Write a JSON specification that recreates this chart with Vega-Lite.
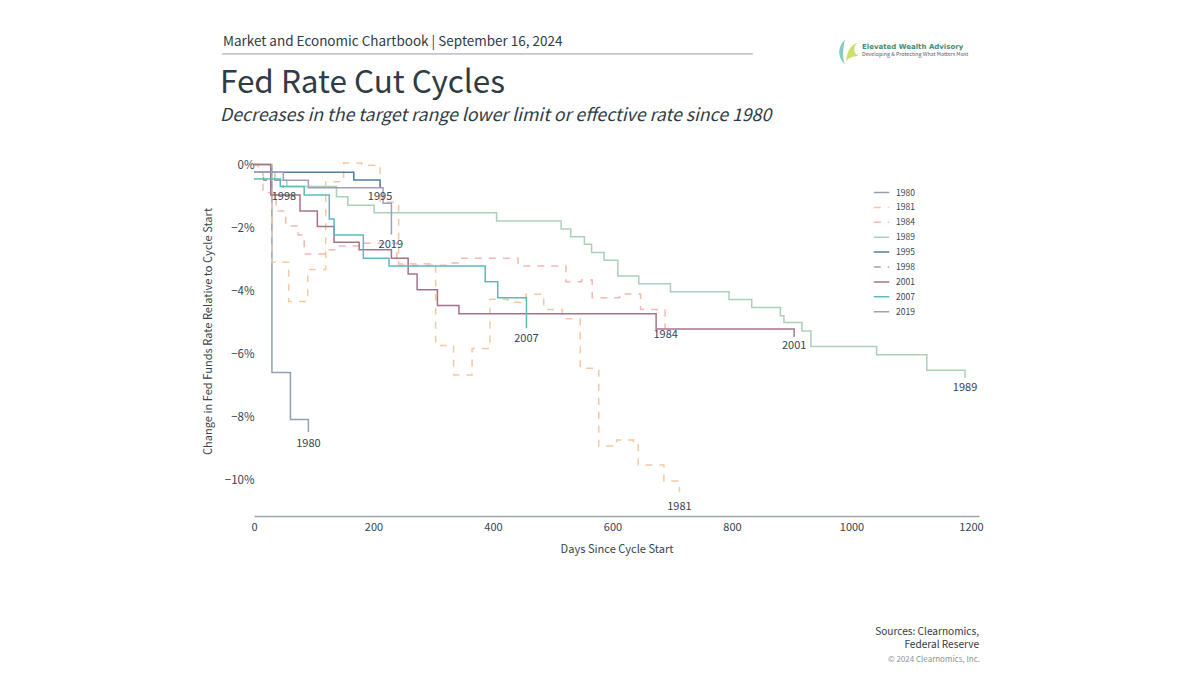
{
  "$schema": "https://vega.github.io/schema/vega-lite/v6.json",
  "autosize": {"type": "none"},
  "padding": {"left": 254, "top": 155, "right": 221, "bottom": 159},
  "width": 725,
  "height": 361,
  "background": "white",
  "title": {
    "text": "Fed Rate Cut Cycles",
    "subtitle": "Decreases in the target range lower limit or effective rate since 1980",
    "anchor": "start",
    "frame": "group",
    "dx": -34,
    "offset": -90,
    "font": "Noto Sans CJK SC",
    "fontSize": 31.5,
    "fontWeight": "normal",
    "color": "#2f3b45",
    "subtitleFont": "Noto Sans CJK SC",
    "subtitleFontSize": 17.7,
    "subtitleFontStyle": "italic",
    "subtitleColor": "#2f3b45",
    "subtitlePadding": 8
  },
  "datasets": {
    "cycles": [
      {"series": "1980", "day": 0, "change": 0},
      {"series": "1980", "day": 30, "change": -6.6},
      {"series": "1980", "day": 61, "change": -8.1},
      {"series": "1980", "day": 91, "change": -8.5},
      {"series": "1981", "day": 0, "change": 0},
      {"series": "1981", "day": 30, "change": -3.1},
      {"series": "1981", "day": 58, "change": -4.35},
      {"series": "1981", "day": 90, "change": -3.33},
      {"series": "1981", "day": 120, "change": -0.55},
      {"series": "1981", "day": 150, "change": 0.05},
      {"series": "1981", "day": 180, "change": -0.02},
      {"series": "1981", "day": 211, "change": -1.2},
      {"series": "1981", "day": 242, "change": -3.15},
      {"series": "1981", "day": 304, "change": -5.75},
      {"series": "1981", "day": 334, "change": -6.68},
      {"series": "1981", "day": 365, "change": -5.84},
      {"series": "1981", "day": 395, "change": -4.28},
      {"series": "1981", "day": 425, "change": -4.37},
      {"series": "1981", "day": 455, "change": -4.12},
      {"series": "1981", "day": 485, "change": -4.6},
      {"series": "1981", "day": 516, "change": -4.9},
      {"series": "1981", "day": 546, "change": -6.47},
      {"series": "1981", "day": 577, "change": -8.94},
      {"series": "1981", "day": 607, "change": -8.75},
      {"series": "1981", "day": 635, "change": -8.85},
      {"series": "1981", "day": 643, "change": -9.54},
      {"series": "1981", "day": 686, "change": -10.05},
      {"series": "1981", "day": 712, "change": -10.39},
      {"series": "1984", "day": 0, "change": 0},
      {"series": "1984", "day": 7, "change": -0.25},
      {"series": "1984", "day": 15, "change": -0.9},
      {"series": "1984", "day": 37, "change": -1.48},
      {"series": "1984", "day": 53, "change": -1.95},
      {"series": "1984", "day": 74, "change": -2.24},
      {"series": "1984", "day": 84, "change": -2.84},
      {"series": "1984", "day": 119, "change": -2.71},
      {"series": "1984", "day": 141, "change": -2.59},
      {"series": "1984", "day": 182, "change": -2.5},
      {"series": "1984", "day": 239, "change": -3.2},
      {"series": "1984", "day": 322, "change": -3.13},
      {"series": "1984", "day": 342, "change": -2.98},
      {"series": "1984", "day": 442, "change": -3.22},
      {"series": "1984", "day": 522, "change": -3.72},
      {"series": "1984", "day": 548, "change": -3.67},
      {"series": "1984", "day": 566, "change": -4.23},
      {"series": "1984", "day": 612, "change": -4.11},
      {"series": "1984", "day": 647, "change": -4.6},
      {"series": "1984", "day": 688, "change": -5.19},
      {"series": "1989", "day": 0, "change": -0.25},
      {"series": "1989", "day": 35, "change": -0.5},
      {"series": "1989", "day": 55, "change": -0.7},
      {"series": "1989", "day": 138, "change": -1.02},
      {"series": "1989", "day": 157, "change": -1.29},
      {"series": "1989", "day": 201, "change": -1.53},
      {"series": "1989", "day": 406, "change": -1.79},
      {"series": "1989", "day": 514, "change": -2.05},
      {"series": "1989", "day": 530, "change": -2.29},
      {"series": "1989", "day": 553, "change": -2.53},
      {"series": "1989", "day": 565, "change": -2.79},
      {"series": "1989", "day": 586, "change": -3.04},
      {"series": "1989", "day": 609, "change": -3.54},
      {"series": "1989", "day": 644, "change": -3.79},
      {"series": "1989", "day": 697, "change": -4.04},
      {"series": "1989", "day": 795, "change": -4.29},
      {"series": "1989", "day": 833, "change": -4.54},
      {"series": "1989", "day": 881, "change": -4.8},
      {"series": "1989", "day": 887, "change": -5.02},
      {"series": "1989", "day": 917, "change": -5.29},
      {"series": "1989", "day": 932, "change": -5.78},
      {"series": "1989", "day": 1042, "change": -6.04},
      {"series": "1989", "day": 1126, "change": -6.53},
      {"series": "1989", "day": 1190, "change": -6.79},
      {"series": "1995", "day": 0, "change": -0.25},
      {"series": "1995", "day": 167, "change": -0.49},
      {"series": "1995", "day": 211, "change": -0.74},
      {"series": "1998", "day": 0, "change": -0.25},
      {"series": "1998", "day": 16, "change": -0.5},
      {"series": "1998", "day": 49, "change": -0.75},
      {"series": "2001", "day": 0, "change": 0},
      {"series": "2001", "day": 28, "change": -0.97},
      {"series": "2001", "day": 77, "change": -1.48},
      {"series": "2001", "day": 106, "change": -1.97},
      {"series": "2001", "day": 134, "change": -2.47},
      {"series": "2001", "day": 176, "change": -2.71},
      {"series": "2001", "day": 230, "change": -2.98},
      {"series": "2001", "day": 258, "change": -3.48},
      {"series": "2001", "day": 273, "change": -3.98},
      {"series": "2001", "day": 307, "change": -4.48},
      {"series": "2001", "day": 343, "change": -4.74},
      {"series": "2001", "day": 673, "change": -5.22},
      {"series": "2001", "day": 904, "change": -5.47},
      {"series": "2007", "day": 0, "change": -0.46},
      {"series": "2007", "day": 44, "change": -0.7},
      {"series": "2007", "day": 84, "change": -0.97},
      {"series": "2007", "day": 126, "change": -1.73},
      {"series": "2007", "day": 134, "change": -2.24},
      {"series": "2007", "day": 183, "change": -2.98},
      {"series": "2007", "day": 226, "change": -3.22},
      {"series": "2007", "day": 387, "change": -3.72},
      {"series": "2007", "day": 408, "change": -4.23},
      {"series": "2007", "day": 456, "change": -5.2},
      {"series": "2019", "day": 0, "change": -0.25},
      {"series": "2019", "day": 49, "change": -0.5},
      {"series": "2019", "day": 91, "change": -0.74},
      {"series": "2019", "day": 216, "change": -1.23},
      {"series": "2019", "day": 230, "change": -2.22}
    ],
    "endLabels": [
      {"series": "1980", "day": 91, "change": -8.84},
      {"series": "1981", "day": 712, "change": -10.84},
      {"series": "1984", "day": 689, "change": -5.38},
      {"series": "1989", "day": 1190, "change": -7.06},
      {"series": "1995", "day": 211, "change": -1.0},
      {"series": "1998", "day": 50, "change": -1.0},
      {"series": "2001", "day": 904, "change": -5.73},
      {"series": "2007", "day": 456, "change": -5.5},
      {"series": "2019", "day": 229, "change": -2.52}
    ]
  },
  "encoding": {
    "x": {
      "type": "quantitative",
      "scale": {"domain": [0, 1213.4], "nice": false, "zero": false},
      "axis": {
        "title": "Days Since Cycle Start",
        "values": [0, 200, 400, 600, 800, 1000, 1200],
        "format": "d",
        "labelFlush": false,
        "grid": false,
        "domainColor": "#9aa3aa",
        "domainWidth": 1.5,
        "ticks": false,
        "labelPadding": 5,
        "labelFont": "Noto Sans CJK SC",
        "labelFontSize": 11,
        "labelColor": "#36454f",
        "titleFont": "Noto Sans CJK SC",
        "titleFontSize": 11.1,
        "titleFontWeight": "normal",
        "titleColor": "#36454f",
        "titlePadding": 11
      }
    },
    "y": {
      "type": "quantitative",
      "scale": {"domain": [-11.16, 0.3016], "nice": false, "zero": false},
      "axis": {
        "title": "Change in Fed Funds Rate Relative to Cycle Start",
        "values": [0, -2, -4, -6, -8, -10],
        "labelExpr": "(datum.value < 0 ? '−' : '') + abs(datum.value) + '%'",
        "grid": false,
        "domain": false,
        "ticks": false,
        "labelPadding": 0,
        "labelOffset": 1,
        "labelFont": "Noto Sans CJK SC",
        "labelFontSize": 11.5,
        "labelColor": "#36454f",
        "titleFont": "Noto Sans CJK SC",
        "titleFontSize": 11.1,
        "titleFontWeight": "normal",
        "titleColor": "#36454f",
        "titleX": -41,
        "titleY": 176
      }
    }
  },
  "layer": [
    {
      "data": {"name": "cycles"},
      "mark": {"type": "line", "interpolate": "step-after"},
      "encoding": {
        "x": {"field": "day"},
        "y": {"field": "change"},
        "color": {
          "field": "series",
          "type": "nominal",
          "scale": {
            "domain": ["1980", "1981", "1984", "1989", "1995", "1998", "2001", "2007", "2019"],
            "range": ["#8fa1b0", "#f3c9a3", "#f3b8b3", "#abd0b8", "#4f7ea3", "#b3a095", "#a5728b", "#5cb9bd", "#a29ebf"]
          },
          "legend": {
            "title": null,
            "orient": "none",
            "legendX": 619,
            "legendY": 29,
            "symbolType": "stroke",
            "symbolSize": 240,
            "rowPadding": 1.9,
            "labelFont": "Noto Sans CJK SC",
            "labelFontSize": 8.5,
            "labelColor": "#36454f",
            "labelOffset": 6
          }
        },
        "strokeDash": {
          "field": "series",
          "type": "nominal",
          "scale": {
            "domain": ["1980", "1981", "1984", "1989", "1995", "1998", "2001", "2007", "2019"],
            "range": [[1, 0], [7, 7], [7, 7], [1, 0], [1, 0], [7, 7], [1, 0], [1, 0], [1, 0]]
          }
        },
        "strokeWidth": {
          "field": "series",
          "type": "nominal",
          "scale": {
            "domain": ["1980", "1981", "1984", "1989", "1995", "1998", "2001", "2007", "2019"],
            "range": [1.5, 1.5, 1.5, 1.5, 2.5, 1.5, 1.5, 1.5, 1.5]
          }
        }
      }
    },
    {
      "data": {"name": "endLabels"},
      "mark": {"type": "text", "font": "Noto Sans CJK SC", "fontSize": 11, "color": "#36454f", "align": "center", "baseline": "middle", "dy": 1},
      "encoding": {
        "x": {"field": "day"},
        "y": {"field": "change"},
        "text": {"field": "series"}
      }
    },
    {
      "data": {"values": [{"note": "Market and Economic Chartbook | September 16, 2024"}]},
      "mark": {"type": "text", "font": "Noto Sans CJK SC", "fontSize": 13.5, "color": "#2f3b45", "align": "left", "baseline": "middle"},
      "encoding": {"x": {"datum": -52}, "y": {"datum": 3.89}, "text": {"field": "note"}}
    },
    {
      "data": {"values": [{"note": "header rule"}]},
      "mark": {"type": "rule", "color": "#9a9ab0", "strokeWidth": 1},
      "encoding": {"x": {"datum": -53.6}, "x2": {"datum": 835}, "y": {"datum": 3.51}}
    },
    {
      "data": {"values": [{"note": "Elevated Wealth Advisory"}]},
      "mark": {"type": "text", "font": "DejaVu Sans", "fontSize": 7, "fontWeight": "bold", "color": "#3f8f72", "align": "left", "baseline": "middle"},
      "encoding": {"x": {"datum": 1017.6}, "y": {"datum": 3.72}, "text": {"field": "note"}}
    },
    {
      "data": {"values": [{"note": "Developing & Protecting What Matters Most"}]},
      "mark": {"type": "text", "font": "Noto Sans CJK SC", "fontSize": 5.3, "color": "#55606a", "align": "left", "baseline": "middle"},
      "encoding": {"x": {"datum": 1017.6}, "y": {"datum": 3.5}, "text": {"field": "note"}}
    },
    {
      "data": {"values": [{"note": "logo leaf"}]},
      "mark": {"type": "point", "filled": true, "opacity": 0.85, "shape": "M -0.1 -1 C -0.7 -0.4 -0.7 0.4 -0.1 1 C -0.35 0.3 -0.2 -0.4 -0.1 -1 Z", "size": 625, "color": "#6fc3b0"},
      "encoding": {"x": {"datum": 991}, "y": {"datum": 3.57}}
    },
    {
      "data": {"values": [{"note": "logo leaf"}]},
      "mark": {"type": "point", "filled": true, "opacity": 0.85, "shape": "M 0.8 -0.9 C 0.1 -0.7 -0.2 0 -0.3 0.9 C 0 0.5 0.6 0.4 1 0.4 C 0.5 0.2 0.3 -0.3 0.8 -0.9 Z", "size": 400, "color": "#c6d94f"},
      "encoding": {"x": {"datum": 996}, "y": {"datum": 3.57}}
    },
    {
      "data": {"values": [{"note": "Sources: Clearnomics,"}]},
      "mark": {"type": "text", "font": "Noto Sans CJK SC", "fontSize": 10.1, "color": "#2f3b45", "align": "right", "baseline": "middle"},
      "encoding": {"x": {"datum": 1213.4}, "y": {"datum": -14.84}, "text": {"field": "note"}}
    },
    {
      "data": {"values": [{"note": "Federal Reserve"}]},
      "mark": {"type": "text", "font": "Noto Sans CJK SC", "fontSize": 10.1, "color": "#2f3b45", "align": "right", "baseline": "middle"},
      "encoding": {"x": {"datum": 1213.4}, "y": {"datum": -15.27}, "text": {"field": "note"}}
    },
    {
      "data": {"values": [{"note": "© 2024 Clearnomics, Inc."}]},
      "mark": {"type": "text", "font": "Noto Sans CJK SC", "fontSize": 8, "color": "#8b949b", "align": "right", "baseline": "middle"},
      "encoding": {"x": {"datum": 1215}, "y": {"datum": -15.72}, "text": {"field": "note"}}
    }
  ],
  "config": {"view": {"stroke": null}}
}
